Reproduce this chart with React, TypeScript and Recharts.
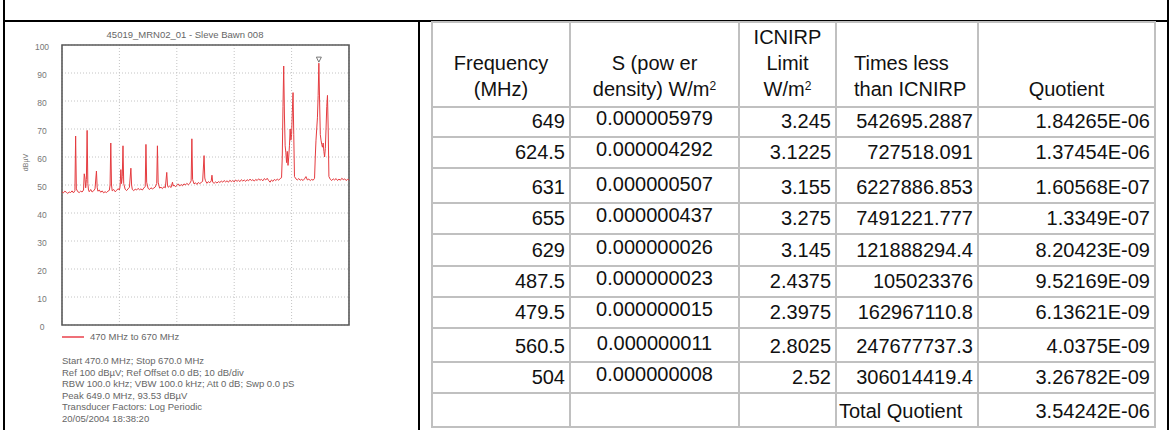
import React from 'react';
import { LineChart, Line, XAxis, YAxis, CartesianGrid, ReferenceArea, ReferenceDot } from 'recharts';

// spectrum trace, 470 - 670 MHz
const freqMHz = [
  470, 471, 472, 473, 474, 475, 476, 477, 478, 479,
  479.5, 480, 481, 482, 483, 484, 485, 485.5, 486, 486.5,
  487, 487.5, 488, 488.5, 489, 490, 491, 492, 493, 494,
  494.5, 495, 496, 497, 498, 499, 500, 501, 502, 503,
  503.5, 504, 504.5, 505, 506, 507, 508, 509, 510, 510.5,
  511, 511.5, 512, 512.5, 513, 514, 515, 516, 517, 518,
  518.5, 519, 520, 521, 522, 523, 524, 525, 526, 527,
  528, 528.5, 529, 530, 531, 532, 533, 534, 535, 536,
  536.5, 537, 538, 539, 540, 541, 542, 543, 543.5, 544,
  545, 546, 547, 547.5, 548, 549, 550, 551, 552, 553,
  554, 555, 556, 557, 558, 559, 560, 560.5, 561, 562,
  563, 564, 565, 566, 567, 568, 569, 569.5, 570, 571,
  572, 573, 574, 574.5, 575, 576, 577, 578, 579, 580,
  581, 582, 583, 584, 585, 586, 587, 588, 589, 590,
  591, 592, 593, 594, 595, 596, 597, 598, 599, 600,
  601, 602, 603, 604, 605, 606, 607, 608, 609, 610,
  611, 612, 613, 614, 615, 616, 617, 618, 619, 620,
  621, 622, 623, 623.5, 624, 624.5, 625, 625.5, 626, 626.5,
  627, 627.5, 628, 628.5, 629, 629.5, 630, 630.5, 631, 631.5,
  632, 633, 634, 635, 636, 637, 638, 639, 640, 641,
  642, 643, 644, 645, 646, 646.5, 647, 647.5, 648, 648.5,
  649, 649.5, 650, 650.5, 651, 651.5, 652, 652.5, 653, 653.5,
  654, 654.5, 655, 655.5, 656, 657, 658, 659, 660, 661,
  662, 663, 664, 665, 666, 667, 668, 669, 670,
];

const levelDbuv = [
  47.6, 47.2, 47.8, 47.4, 47.0, 47.5, 47.3, 47.9, 47.2, 48.0,
  67.5, 48.6, 47.6, 47.3, 47.8, 47.5, 48.2, 54.0, 52.5, 49.0,
  52.0, 69.5, 50.5, 48.0, 47.6, 48.4, 47.5, 47.9, 48.6, 55.0,
  49.2, 47.8, 48.2, 47.4, 47.9, 47.2, 47.6, 47.3, 47.8, 48.1,
  50.0, 65.0, 50.0, 47.9, 48.4, 47.6, 48.0, 48.7, 48.2, 49.5,
  55.5, 50.5, 53.0, 64.0, 50.5, 48.5, 48.0, 48.6, 49.2, 56.0,
  50.0, 48.4, 48.0, 48.5, 48.2, 48.8, 48.3, 48.6, 48.2, 48.9,
  49.5, 64.5, 51.0, 48.8, 48.4, 49.0, 48.6, 48.9, 49.3, 50.5,
  64.0, 51.0, 48.9, 49.2, 48.7, 49.4, 49.0, 54.5, 50.0, 49.2,
  49.6, 49.1, 51.0, 49.6, 50.0, 49.4, 49.8, 50.4, 49.6, 50.2,
  49.7, 50.4, 50.0, 50.6, 50.1, 50.5, 51.5, 66.5, 52.0, 50.4,
  50.8, 50.2, 50.9, 50.5, 50.9, 51.3, 60.5, 52.5, 51.5, 50.6,
  51.2, 50.8, 51.5, 53.5, 51.0, 50.6, 51.1, 50.7, 51.2, 50.9,
  51.4, 51.0, 51.6, 51.1, 51.5, 51.0, 51.7, 51.2, 51.6, 51.1,
  51.8, 51.3, 51.7, 51.2, 51.9, 51.4, 51.8, 51.3, 51.9, 51.5,
  52.1, 51.6, 51.9, 51.4, 52.0, 51.6, 52.2, 51.7, 52.0, 51.5,
  52.3, 51.8, 52.4, 51.6, 51.0, 51.8, 51.3, 52.0, 51.6, 52.1,
  51.7, 52.3, 52.6, 60.0, 78.0, 92.5, 75.0, 64.0, 61.5, 58.0,
  62.0, 57.0, 60.0, 64.0, 70.0, 66.0, 68.0, 76.0, 83.0, 68.0,
  53.0, 52.2, 51.8, 52.3, 51.7, 52.0, 51.6, 52.2, 53.0, 51.8,
  52.1, 51.6, 52.0, 51.7, 52.4, 60.0, 66.0, 70.0, 74.0, 82.0,
  93.5, 80.0, 68.0, 66.0, 64.5, 63.5, 65.0, 62.0, 60.0, 63.0,
  70.0, 78.0, 82.0, 70.0, 53.0, 52.0, 51.6, 52.2, 51.8, 52.3,
  51.6, 52.1, 51.7, 52.4, 51.9, 52.2, 51.6, 52.0, 51.8,
];

const yTicks = [0, 10, 20, 30, 40, 50, 60, 70, 80, 90, 100];
const gridFreqs = [470, 490, 510, 530, 550, 570, 590, 610, 630, 650, 670];
const peakFreq = 649;
const peakLevel = 93.53;

const plotTitle = '45019_MRN02_01 - Sleve Bawn 008';
const traceName = '470 MHz to 670 MHz';
const infoLines = [
  'Start 470.0 MHz; Stop 670.0 MHz',
  'Ref 100 dBµV; Ref Offset 0.0 dB; 10 dB/div',
  'RBW 100.0 kHz; VBW 100.0 kHz; Att 0 dB; Swp 0.0 pS',
  'Peak 649.0 MHz, 93.53 dBµV',
  'Transducer Factors: Log Periodic',
  '20/05/2004 18:38:20',
];

// table
const tableFreq = ['649', '624.5', '631', '655', '629', '487.5', '479.5', '560.5', '504'];
const powerDensity = ['0.000005979', '0.000004292', '0.000000507', '0.000000437', '0.000000026',
  '0.000000023', '0.000000015', '0.000000011', '0.000000008'];
const icnirpLimit = ['3.245', '3.1225', '3.155', '3.275', '3.145', '2.4375', '2.3975', '2.8025', '2.52'];
const timesLess = ['542695.2887', '727518.091', '6227886.853', '7491221.777', '121888294.4',
  '105023376', '162967110.8', '247677737.3', '306014419.4'];
const quotient = ['1.84265E-06', '1.37454E-06', '1.60568E-07', '1.3349E-07', '8.20423E-09',
  '9.52169E-09', '6.13621E-09', '4.0375E-09', '3.26782E-09'];
const totalLabel = 'Total Quotient';
const totalQuotient = '3.54242E-06';

const rowHeights = [28, 29, 33, 29, 30, 29, 29, 32, 29, 32];

const FONT = '"Liberation Sans", Arial, sans-serif';
const trace = freqMHz.map((f, i) => ({ f, v: levelDbuv[i] }));

const YTick = (props: any) => (
  <text x={42} y={props.y + 5} textAnchor="middle" fontSize={8.5} fill="#777" fontFamily={FONT}>
    {props.payload.value}
  </text>
);

const PeakMarker = (props: any) => {
  const { cx, cy } = props;
  return (
    <polygon
      points={`${cx - 2.5},${cy - 6} ${cx + 2.5},${cy - 6} ${cx},${cy - 1}`}
      fill="#fff"
      stroke="#777"
      strokeWidth={1}
    />
  );
};

function Spectrum() {
  return (
    <div style={{ position: 'absolute', left: 0, top: 0, width: 420, height: 430, fontFamily: FONT }}>
      <div style={{ position: 'absolute', left: 62, width: 246, top: 29, textAlign: 'center', fontSize: 9.5, color: '#666' }}>
        {plotTitle}
      </div>
      <div style={{ position: 'absolute', left: 10, top: 159, width: 30, textAlign: 'center', fontSize: 7, color: '#777', transform: 'rotate(-90deg)' }}>
        dBµV
      </div>
      <div style={{ position: 'absolute', left: 0, top: 0 }}>
        <LineChart width={420} height={340} data={trace} margin={{ top: 45, right: 71, bottom: 15, left: 0 }}>
          <CartesianGrid stroke="#c4c4c4" strokeDasharray="1 2" />
          <XAxis dataKey="f" type="number" domain={[470, 670]} ticks={gridFreqs} hide />
          <YAxis domain={[0, 100]} ticks={yTicks} width={62} axisLine={false} tickLine={false} tick={YTick} />
          <Line dataKey="v" type="linear" stroke="#e53b3f" strokeWidth={1} dot={false} isAnimationActive={false} />
          <ReferenceArea x1={470} x2={670} y1={0} y2={100} fill="none" fillOpacity={0} stroke="#5a5a5a" strokeWidth={1.6} />
          <ReferenceDot x={peakFreq} y={peakLevel} shape={PeakMarker} />
        </LineChart>
      </div>
      <div style={{ position: 'absolute', left: 62, top: 336, width: 22, height: 1.5, background: '#ef7078' }} />
      <div style={{ position: 'absolute', left: 90, top: 331, fontSize: 9.5, color: '#666', whiteSpace: 'nowrap' }}>
        {traceName}
      </div>
      <div style={{ position: 'absolute', left: 62, top: 355, fontSize: 9.5, lineHeight: '11.6px', color: '#666', whiteSpace: 'nowrap' }}>
        {infoLines.map((l) => (
          <div key={l}>{l}</div>
        ))}
      </div>
    </div>
  );
}

const cellBase: React.CSSProperties = {
  background: '#fff',
  display: 'flex',
  alignItems: 'flex-end',
  fontSize: 20,
  color: '#111',
  whiteSpace: 'nowrap',
  boxSizing: 'border-box',
};

function Head({ children, align = 'center', pl = 0 }: { children: React.ReactNode; align?: string; pl?: number }) {
  return (
    <div style={{ ...cellBase, justifyContent: align === 'left' ? 'flex-start' : 'center', paddingBottom: 4, paddingLeft: pl }}>
      <div style={{ lineHeight: '26px', textAlign: align as any }}>{children}</div>
    </div>
  );
}

function Num({ children, align = 'right', pb = 3 }: { children?: React.ReactNode; align?: string; pb?: number }) {
  const jc = align === 'right' ? 'flex-end' : align === 'left' ? 'flex-start' : 'center';
  return (
    <div style={{ ...cellBase, justifyContent: jc, paddingBottom: pb, paddingRight: align === 'right' ? 4 : 0, paddingLeft: align === 'left' ? 2 : 0 }}>
      {children}
    </div>
  );
}

function ExposureTable() {
  return (
    <div
      style={{
        position: 'absolute',
        left: 431,
        top: 21,
        width: 725,
        height: 407,
        boxSizing: 'border-box',
        padding: 2,
        gap: 2,
        background: '#c0c0c0',
        display: 'grid',
        gridTemplateColumns: '136px 167px 95px 140px 175px',
        gridTemplateRows: `83px ${rowHeights.map((h) => h + 'px').join(' ')}`,
        fontFamily: FONT,
      }}
    >
      <Head>Frequency<br />(MHz)</Head>
      <Head>S (pow er<br />density) W/m<sup style={{ fontSize: 12, verticalAlign: 6, lineHeight: 0 }}>2</sup></Head>
      <Head>ICNIRP<br />Limit<br />W/m<sup style={{ fontSize: 12, verticalAlign: 6, lineHeight: 0 }}>2</sup></Head>
      <Head align="left" pl={17}>Times less<br />than ICNIRP</Head>
      <Head>Quotient</Head>
      {tableFreq.map((f, i) => (
        <React.Fragment key={f}>
          <Num>{f}</Num>
          <Num align="center" pb={6}>{powerDensity[i]}</Num>
          <Num>{icnirpLimit[i]}</Num>
          <Num>{timesLess[i]}</Num>
          <Num>{quotient[i]}</Num>
        </React.Fragment>
      ))}
      <Num />
      <Num />
      <Num />
      <Num align="left">{totalLabel}</Num>
      <Num>{totalQuotient}</Num>
    </div>
  );
}

export default function App() {
  return (
    <div style={{ position: 'absolute', left: 0, top: 0, width: 1170, height: 430, background: '#fff', overflow: 'hidden' }}>
      <div style={{ position: 'absolute', left: 3, top: 0, width: 2, height: 430, background: '#000' }} />
      <div style={{ position: 'absolute', left: 1167, top: 0, width: 2, height: 430, background: '#000' }} />
      <div style={{ position: 'absolute', left: 3, top: 20, width: 1166, height: 2, background: '#000' }} />
      <div style={{ position: 'absolute', left: 418, top: 20, width: 2, height: 410, background: '#000' }} />
      <Spectrum />
      <ExposureTable />
    </div>
  );
}
